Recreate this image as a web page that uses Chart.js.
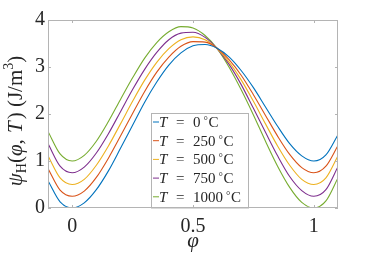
<!DOCTYPE html>
<html>
<head>
<meta charset="utf-8">
<script src="https://cdn.jsdelivr.net/npm/chart.js@4.4.1/dist/chart.umd.min.js"></script>
<style>
  html, body { margin: 0; padding: 0; background: #fff; }
  #wrap { width: 373px; height: 263px; }
</style>
</head>
<body>
<div id="wrap"><canvas id="chart" width="373" height="263"></canvas></div>
<script>
// phase field value phi and free energy density psi_H for each temperature
const phi = [-0.1, -0.05, 0, 0.05, 0.1, 0.15, 0.2, 0.25, 0.3, 0.35, 0.4, 0.45, 0.5,
             0.55, 0.6, 0.65, 0.7, 0.75, 0.8, 0.85, 0.9, 0.95, 1, 1.05, 1.1];
const temps = [0, 250, 500, 750, 1000];
const psi0    = [0.58, 0.13, 0.00, 0.11, 0.39, 0.79, 1.27, 1.76, 2.25, 2.68, 3.04, 3.30, 3.45,
                 3.48, 3.40, 3.21, 2.92, 2.56, 2.15, 1.74, 1.37, 1.11, 1.00, 1.13, 1.56];
const psi250  = [0.84, 0.38, 0.25, 0.36, 0.65, 1.06, 1.53, 2.01, 2.48, 2.89, 3.21, 3.44, 3.54,
                 3.53, 3.40, 3.15, 2.82, 2.41, 1.97, 1.53, 1.14, 0.86, 0.75, 0.89, 1.33];
const psi500  = [1.11, 0.64, 0.50, 0.61, 0.91, 1.32, 1.79, 2.27, 2.72, 3.10, 3.39, 3.58, 3.64,
                 3.58, 3.39, 3.10, 2.72, 2.27, 1.79, 1.32, 0.91, 0.61, 0.50, 0.64, 1.11];
const psi750  = [1.37, 0.89, 0.75, 0.87, 1.17, 1.58, 2.05, 2.52, 2.95, 3.31, 3.58, 3.72, 3.74,
                 3.63, 3.39, 3.05, 2.62, 2.12, 1.61, 1.11, 0.67, 0.37, 0.25, 0.39, 0.88];
const psi1000 = [1.63, 1.15, 1.00, 1.12, 1.42, 1.84, 2.31, 2.77, 3.19, 3.52, 3.75, 3.86, 3.83,
                 3.67, 3.39, 2.99, 2.51, 1.98, 1.42, 0.89, 0.44, 0.12, 0.00, 0.15, 0.64];
const xTicks = [0, 0.5, 1];
const xTickLabels = ['0', '0.5', '1'];
const yTicks = [0, 1, 2, 3, 4];

const colors = ['#0072BD', '#D95319', '#EDB120', '#7E2F8E', '#77AC30'];
const series = [psi0, psi250, psi500, psi750, psi1000];

const SERIF = '"Liberation Serif", "DejaVu Serif", serif';
const frameColor = '#b4b4b4';
const textColor = '#262626';

function drawRuns(ctx, runs, x, y) {
    let cx = x;
    for (const r of runs) {
        ctx.font = r.font;
        ctx.fillText(r.t, cx, y + (r.dy || 0));
        cx += ctx.measureText(r.t).width + (r.gap || 0);
    }
    return cx - x;
}
function runsWidth(ctx, runs) {
    let w = 0;
    for (const r of runs) {
        ctx.font = r.font;
        w += ctx.measureText(r.t).width + (r.gap || 0);
    }
    return w;
}

const decor = {
    id: 'decor',
    afterDatasetsDraw(chart) {
        const { ctx, chartArea: a, scales: { x, y } } = chart;
        ctx.save();

        // legend box
        const lx = 151.5, ly = 113.5, lw = 97, lh = a.bottom - 113.5;
        ctx.fillStyle = '#fff';
        ctx.fillRect(lx, ly, lw, lh);
        ctx.strokeStyle = frameColor;
        ctx.lineWidth = 1;
        ctx.strokeRect(lx, ly, lw, lh);
        ctx.textBaseline = 'alphabetic';
        ctx.textAlign = 'left';
        chart.data.datasets.forEach((ds, i) => {
            const by = 127 + i * 18.7;
            ctx.strokeStyle = ds.borderColor;
            ctx.lineWidth = 1;
            ctx.beginPath();
            ctx.moveTo(153, by - 5);
            ctx.lineTo(159, by - 5);
            ctx.stroke();
            ctx.fillStyle = textColor;
            ctx.font = 'italic 15px ' + SERIF;
            ctx.fillText('T', 159, by);
            ctx.font = '15px ' + SERIF;
            ctx.fillText('=', 176, by);
            const w = drawRuns(ctx, [{ t: String(temps[i]), font: '15px ' + SERIF, gap: 3 }], 193, by);
            ctx.font = '11px ' + SERIF;
            ctx.fillText('°', 193 + w, by - 3);
            ctx.font = '15px ' + SERIF;
            ctx.fillText('C', 193 + w + 5, by);
        });

        // frame and inward ticks
        ctx.strokeStyle = frameColor;
        ctx.lineWidth = 1;
        ctx.strokeRect(Math.round(a.left) + 0.5, Math.round(a.top) + 0.5,
            Math.round(a.right - a.left) - 1, Math.round(a.bottom - a.top) - 1);
        ctx.beginPath();
        for (const v of xTicks) {
            const px = Math.round(x.getPixelForValue(v)) + 0.5;
            ctx.moveTo(px, a.bottom); ctx.lineTo(px, a.bottom - 3);
            ctx.moveTo(px, a.top); ctx.lineTo(px, a.top + 3);
        }
        for (const v of yTicks) {
            const py = Math.round(y.getPixelForValue(v)) + 0.5;
            ctx.moveTo(a.left, py); ctx.lineTo(a.left + 3, py);
            ctx.moveTo(a.right, py); ctx.lineTo(a.right - 3, py);
        }
        ctx.stroke();

        // axis titles
        ctx.fillStyle = textColor;
        ctx.font = 'italic 21px ' + SERIF;
        ctx.textAlign = 'center';
        ctx.fillText('φ', (a.left + a.right) / 2, 247);
        ctx.textAlign = 'left';

        const big = '21px ' + SERIF, ital = 'italic 21px ' + SERIF, small = '14px ' + SERIF;
        const runs = [
            { t: 'ψ', font: ital },
            { t: 'H', font: small, dy: 4 },
            { t: '(', font: big },
            { t: 'φ', font: ital },
            { t: ', ', font: big, gap: 1 },
            { t: 'T', font: ital, gap: 2 },
            { t: ') (J/m', font: big },
            { t: '3', font: small, dy: -9 },
            { t: ')', font: big }
        ];
        const tw = runsWidth(ctx, runs);
        ctx.translate(22, 121);
        ctx.rotate(-Math.PI / 2);
        drawRuns(ctx, runs, -tw / 2, 0);
        ctx.restore();
    }
};

new Chart(document.getElementById('chart'), {
    type: 'line',
    data: {
        datasets: series.map((vals, i) => ({
            label: 'T = ' + temps[i] + ' °C',
            data: phi.map((p, j) => ({ x: p, y: vals[j] })),
            borderColor: colors[i],
            borderWidth: 1.1,
            pointRadius: 0,
            fill: false,
            cubicInterpolationMode: 'monotone'
        }))
    },
    options: {
        responsive: false,
        devicePixelRatio: 1,
        animation: false,
        layout: { padding: { left: 0, top: 20, right: 35, bottom: 0 } },
        plugins: { legend: { display: false }, tooltip: { enabled: false } },
        scales: {
            x: {
                type: 'linear',
                min: -0.1,
                max: 1.1,
                afterBuildTicks: s => { s.ticks = xTicks.map(v => ({ value: v })); },
                afterFit: s => { s.height = 55; },
                grid: { display: false, drawTicks: false },
                border: { display: false },
                ticks: {
                    color: textColor,
                    font: { family: SERIF, size: 20 },
                    padding: 7,
                    maxRotation: 0,
                    callback: (v, i) => xTickLabels[i]
                }
            },
            y: {
                min: 0,
                max: 4,
                afterBuildTicks: s => { s.ticks = yTicks.map(v => ({ value: v })); },
                afterFit: s => { s.width = 48; },
                grid: { display: false, drawTicks: false },
                border: { display: false },
                ticks: {
                    color: textColor,
                    font: { family: SERIF, size: 20 },
                    padding: 3
                }
            }
        }
    },
    plugins: [decor]
});
</script>
</body>
</html>
